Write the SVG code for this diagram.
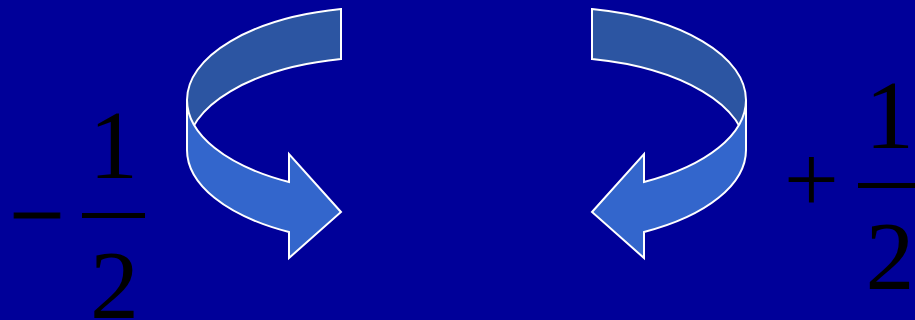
<svg xmlns="http://www.w3.org/2000/svg" width="915" height="320" viewBox="0 0 915 320">
  <style>
    .back { fill: #2C55A2; stroke: #FFFFFF; stroke-width: 2; stroke-linejoin: miter; }
    .front { fill: #3366CC; stroke: #FFFFFF; stroke-width: 2; stroke-linejoin: miter; }
    .math { font-family: "Liberation Serif", "Times New Roman", serif; font-size: 98px; fill: #000000; text-anchor: middle; }
    .bar { fill: #000000; }
  </style>
  <defs>
    <g id="curlArrow">
      <path class="back" d="M 341,9 A 193 93 0 0 0 187,100 L 187,150 A 193 93 0 0 1 341,59 Z"/>
      <path class="front" d="M 187,100 A 193 93 0 0 0 289,182 L 289,154 L 341,212 L 289,258 L 289,232 A 193 93 0 0 1 187,150 Z"/>
    </g>
  </defs>
  <rect x="0" y="0" width="915" height="320" fill="#000099"/>
  <g id="left-arrow">
    <use href="#curlArrow"/>
  </g>
  <g id="right-arrow">
    <use href="#curlArrow" transform="translate(933,0) scale(-1,1)"/>
  </g>
  <g id="left-label">
    <text class="math" x="37" y="248" stroke="#000000" stroke-width="1">−</text>
    <text class="math" x="113.5" y="178">1</text>
    <rect class="bar" x="82" y="213" width="63" height="5"/>
    <text class="math" x="114.5" y="318">2</text>
  </g>
  <g id="right-label">
    <text class="math" x="811.5" y="212">+</text>
    <text class="math" x="889.5" y="148">1</text>
    <rect class="bar" x="858" y="183" width="63" height="5"/>
    <text class="math" x="890" y="289">2</text>
  </g>
  <g id="connectors"/>
</svg>
